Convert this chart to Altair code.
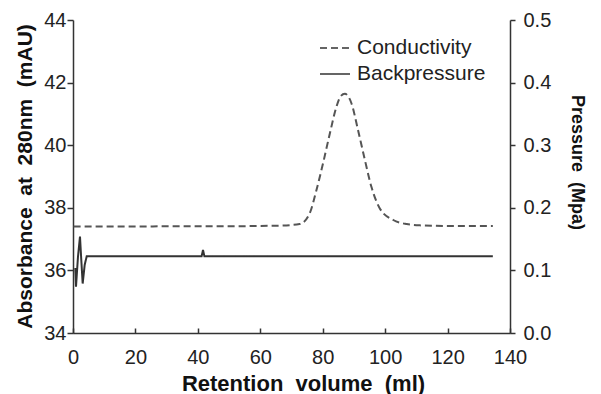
import altair as alt
import pandas as pd

# Conductivity trace (dashed), read in left-axis units
cond_x = [0.2, 10, 20, 30, 40, 50, 60, 66.2, 72.6, 75.8, 78.0, 80.1, 82.3, 84.4, 85.8,
          87.1, 88.3, 89.2, 91.3, 93.5, 95.6, 98.3, 102.6, 106.9, 111.1, 120, 128, 134.5]
cond_y = [37.40, 37.40, 37.40, 37.41, 37.41, 37.41, 37.42, 37.43, 37.48, 37.82, 38.57, 39.42,
          40.38, 41.23, 41.57, 41.64, 41.54, 41.34, 40.49, 39.53, 38.67, 37.98, 37.61, 37.48,
          37.44, 37.42, 37.42, 37.42]

# Backpressure trace (solid), in MPa (right axis)
bp_x = [0.74, 0.96, 1.6, 2.24, 2.56, 3.1, 3.75, 4.39, 41.2, 41.65, 42.1, 134.5]
bp_y = [0.104, 0.074, 0.122, 0.154, 0.125, 0.079, 0.109, 0.1225, 0.1225, 0.1326, 0.1225, 0.1225]

series_names = ["Conductivity", "Backpressure"]
x_ticks = [0, 20, 40, 60, 80, 100, 120, 140]
left_ticks = [34, 36, 38, 40, 42, 44]
right_ticks = [0.0, 0.1, 0.2, 0.3, 0.4, 0.5]

cond_df = pd.DataFrame({"x": cond_x, "y": cond_y, "series": series_names[0]})
bp_df = pd.DataFrame({"x": bp_x, "y": bp_y, "series": series_names[1]})

FONT = "Liberation Sans"
W, H = 437, 313

xscale = alt.Scale(domain=[0, 140], nice=False, zero=False)
dash_scale = alt.Scale(domain=series_names, range=[[7, 4], [1, 0]])

legend = alt.Legend(
    title=None, orient="none", legendX=246, legendY=12,
    symbolType="stroke", symbolSize=900, symbolStrokeWidth=1.5,
    symbolStrokeColor="#333", labelFontSize=21, labelFont=FONT,
    labelColor="#222", rowPadding=-5, labelOffset=6,
)

cond = alt.Chart(cond_df).mark_line(color="#555", strokeWidth=2, interpolate="monotone").encode(
    x=alt.X("x:Q", scale=xscale,
            axis=alt.Axis(orient="bottom", values=x_ticks, ticks=False, labelPadding=14,
                          title="Retention\u00a0 volume\u00a0 (ml)", titleFontSize=22,
                          titleX=230, titleY=57, titleBaseline="alphabetic", titleAlign="center")),
    y=alt.Y("y:Q", scale=alt.Scale(domain=[34, 44], nice=False, zero=False),
            axis=alt.Axis(orient="left", values=left_ticks, tickSize=6, labelPadding=1,
                          title="Absorbance\u00a0 at\u00a0 280nm\u00a0 (mAU)",
                          titleAngle=270, titleX=-42, titleY=156, titleBaseline="alphabetic",
                          titleAlign="center")),
    strokeDash=alt.StrokeDash("series:N", scale=dash_scale, legend=legend, sort=series_names),
)

bp = alt.Chart(bp_df).mark_line(color="#333", strokeWidth=2).encode(
    x=alt.X("x:Q", scale=xscale,
            axis=alt.Axis(orient="top", values=x_ticks, offset=-H, labels=False, domain=False,
                          tickSize=5, title=None)),
    y=alt.Y("y:Q", scale=alt.Scale(domain=[0, 0.5], nice=False, zero=False),
            axis=alt.Axis(orient="right", values=right_ticks, format=".1f", tickSize=5,
                          labelPadding=8, title="Pressure\u00a0 (Mpa)", titleFontSize=18,
                          titleAngle=90, titleX=61, titleY=142, titleBaseline="alphabetic",
                          titleAlign="center")),
    strokeDash=alt.StrokeDash("series:N", scale=dash_scale, legend=legend, sort=series_names),
)

chart = alt.layer(cond, bp).resolve_scale(y="independent").resolve_axis(x="independent").properties(
    width=W, height=H,
    autosize=alt.AutoSizeParams(type="none"),
    padding={"left": 73, "top": 20, "right": 91, "bottom": 61},
).configure_view(stroke=None).configure_axis(
    grid=False, domainColor="#333", tickColor="#333", domainWidth=1.5, tickWidth=1.5,
    labelFlush=False, labelOverlap=False,
    labelFont=FONT, labelFontSize=20, labelColor="#222",
    titleFont=FONT, titleFontSize=21, titleFontWeight="bold", titleColor="#111",
)

chart.save("out.html", embed_options={"renderer": "svg", "actions": False})
